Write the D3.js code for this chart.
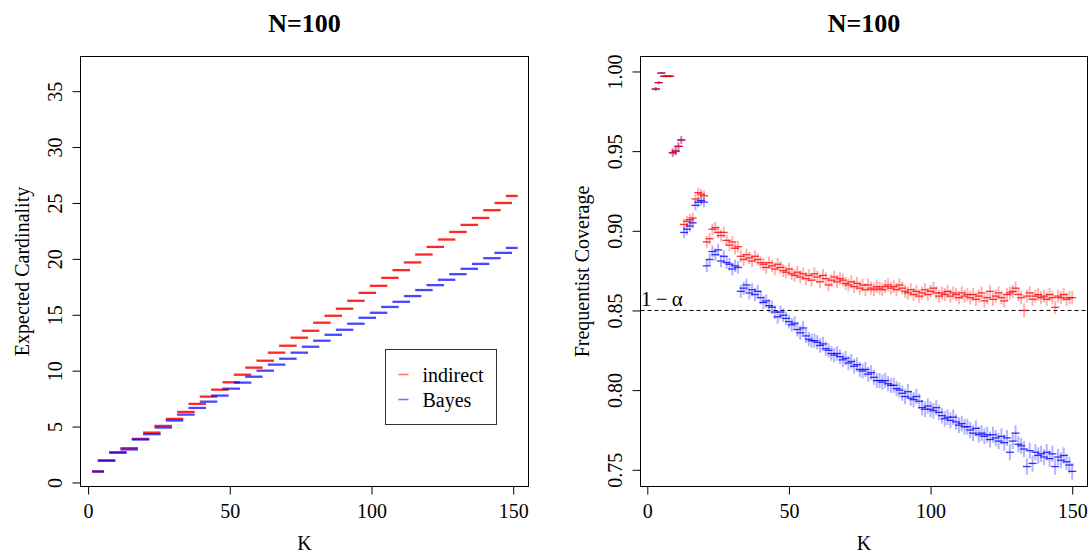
<!DOCTYPE html>
<html>
<head>
<meta charset="utf-8">
<script src="https://cdn.jsdelivr.net/npm/d3@7"></script>
<style>
  body { margin: 0; background: #fff; }
  text { font-family: "Liberation Serif", "Times New Roman", serif; fill: #000; }
</style>
</head>
<body>
<script>
// ---- data ----------------------------------------------------------------
// left panel: expected cardinality, one value per block of K
const blockStart = [3, 5, 9, 13, 17, 21, 25, 29, 33, 37, 41, 45, 49, 53, 57, 61, 65, 69, 73,
  77, 81, 85, 89, 93, 97, 101, 105, 109, 113, 117, 121, 125, 129, 133, 137, 141, 145, 149]
const blockEnd = 150
const cardIndirect = [0.98, 1.96, 2.68, 3.07, 3.90, 4.46, 5.06, 5.69, 6.31, 7.03, 7.68, 8.30,
  8.96, 9.64, 10.27, 10.89, 11.61, 12.23, 12.95, 13.57, 14.29, 14.91, 15.54, 16.25, 16.96,
  17.59, 18.30, 18.99, 19.68, 20.39, 21.07, 21.73, 22.41, 23.04, 23.66, 24.35, 25.00, 25.63]
const cardBayes = [0.98, 1.96, 2.68, 2.95, 3.84, 4.32, 4.91, 5.54, 6.07, 6.67, 7.23, 7.77,
  8.39, 8.93, 9.46, 10.00, 10.54, 11.07, 11.61, 12.14, 12.68, 13.21, 13.66, 14.20, 14.73,
  15.18, 15.70, 16.16, 16.67, 17.21, 17.65, 18.13, 18.63, 19.11, 19.55, 20.06, 20.54, 20.98]

// right panel: frequentist coverage for K = 3 .. 150
const kValues = d3.range(3, 151)
const covIndirect = [
  0.989, 0.993, 0.999, 0.997, 0.997, 0.997,
  0.949, 0.950, 0.953, 0.957, 0.904, 0.906, 0.907, 0.908, 0.920, 0.924, 0.923, 0.922,
  0.893, 0.895, 0.901, 0.902, 0.899, 0.897, 0.899, 0.894, 0.891, 0.893, 0.889, 0.890,
  0.884, 0.882, 0.885, 0.883, 0.881, 0.884, 0.882, 0.880, 0.879, 0.877, 0.880, 0.878,
  0.876, 0.879, 0.877, 0.875, 0.874, 0.876, 0.873, 0.872, 0.874, 0.871, 0.873, 0.870,
  0.872, 0.869, 0.873, 0.871, 0.868, 0.872, 0.870, 0.866, 0.869, 0.871, 0.868, 0.870,
  0.869, 0.867, 0.866, 0.868, 0.865, 0.867, 0.864, 0.866, 0.863, 0.866, 0.864, 0.863,
  0.865, 0.864, 0.863, 0.865, 0.866, 0.864, 0.865, 0.863, 0.866, 0.864, 0.862, 0.861,
  0.863, 0.860, 0.862, 0.859, 0.861, 0.863, 0.860, 0.862, 0.864, 0.861, 0.859, 0.861,
  0.860, 0.862, 0.859, 0.861, 0.860, 0.858, 0.861, 0.859, 0.860, 0.858, 0.860, 0.857,
  0.859, 0.861, 0.856, 0.858, 0.862, 0.857, 0.859, 0.861, 0.858, 0.856, 0.860, 0.861,
  0.862, 0.864, 0.860, 0.858, 0.850, 0.859, 0.861, 0.857, 0.859, 0.860, 0.858, 0.859,
  0.857, 0.860, 0.858, 0.852, 0.859, 0.858, 0.860, 0.857, 0.858, 0.858]
const covBayes = [
  0.989, 0.993, 0.999, 0.997, 0.997, 0.997,
  0.949, 0.950, 0.953, 0.957, 0.899, 0.901, 0.903, 0.905, 0.916, 0.918, 0.919, 0.918,
  0.878, 0.882, 0.887, 0.885, 0.888, 0.881, 0.884, 0.880, 0.879, 0.876, 0.878, 0.877,
  0.862, 0.864, 0.866, 0.861, 0.863, 0.860, 0.862, 0.858, 0.855, 0.856, 0.853, 0.852,
  0.849, 0.846, 0.849, 0.847, 0.845, 0.843, 0.841, 0.842, 0.838, 0.836, 0.839, 0.834,
  0.832, 0.831, 0.831, 0.830, 0.828, 0.829, 0.826, 0.825, 0.823, 0.822, 0.823, 0.821,
  0.819, 0.820, 0.817, 0.818, 0.815, 0.816, 0.813, 0.812, 0.813, 0.810, 0.811, 0.808,
  0.806, 0.806, 0.805, 0.806, 0.804, 0.803, 0.803, 0.801, 0.800, 0.798, 0.796, 0.799,
  0.795, 0.794, 0.796, 0.793, 0.789, 0.788, 0.790, 0.788, 0.787, 0.789, 0.786, 0.784,
  0.782, 0.783, 0.781, 0.783, 0.780, 0.778, 0.779, 0.777, 0.777, 0.775, 0.773, 0.776,
  0.772, 0.773, 0.771, 0.772, 0.769, 0.772, 0.770, 0.768, 0.771, 0.767, 0.770, 0.761,
  0.768, 0.773, 0.766, 0.765, 0.763, 0.752, 0.762, 0.754, 0.761, 0.759, 0.760, 0.758,
  0.761, 0.757, 0.760, 0.752, 0.758, 0.756, 0.759, 0.755, 0.753, 0.749]
const nominal = 0.85
const nSim = 27000   // simulation size behind the coverage error bars

const xTicks = [0, 50, 100, 150]
const cardTicks = [0, 5, 10, 15, 20, 25, 30, 35]
const covTicks = [0.75, 0.80, 0.85, 0.90, 0.95, 1.00]
const seriesNames = ['indirect', 'Bayes']
const colors = { indirect: '#ff0000', Bayes: '#0000ff' }

// ---- layout --------------------------------------------------------------
const width = 1090, height = 553
const svg = d3.select('body').append('svg')
  .attr('width', width)
  .attr('height', height)

const left = { x0: 80.5, x1: 528.5, y0: 56.5, y1: 486.5 }
const right = { x0: 640.5, x1: 1087.5, y0: 56.5, y1: 486.5 }

const xL = d3.scaleLinear().domain([-2.68, 155.4]).range([left.x0, left.x1])
const yL = d3.scaleLinear().domain([-0.36, 38.1]).range([left.y1, left.y0])
const xR = d3.scaleLinear().domain([-2.4, 155.4]).range([right.x0, right.x1])
const yR = d3.scaleLinear().domain([0.7395, 1.0094]).range([right.y1, right.y0])

function panel (p, x, y, yTicks, yFmt, title, ylab) {
  let g = svg.append('g')

  g.append('g')
    .attr('transform', `translate(0,${p.y1})`)
    .call(d3.axisBottom(x).tickValues(xTicks).tickSize(8).tickPadding(9).tickSizeOuter(0))
    .call(a => a.select('.domain').remove())
    .call(a => a.selectAll('text').attr('font-size', 20).attr('font-family', null))

  g.append('g')
    .attr('transform', `translate(${p.x0},0)`)
    .call(d3.axisLeft(y).tickValues(yTicks).tickFormat(yFmt).tickSize(8).tickSizeOuter(0))
    .call(a => a.select('.domain').remove())
    .call(a => a.selectAll('text')
      .attr('font-size', 20)
      .attr('font-family', null)
      .attr('text-anchor', 'middle')
      .attr('x', 0).attr('dy', null)
      .attr('y', -19)
      .attr('transform', 'rotate(-90)'))

  g.selectAll('.tick line').attr('stroke', '#000')

  g.append('rect')
    .attr('x', p.x0).attr('y', p.y0)
    .attr('width', p.x1 - p.x0).attr('height', p.y1 - p.y0)
    .attr('fill', 'none').attr('stroke', '#000').attr('stroke-width', 1)

  let cx = (p.x0 + p.x1) / 2
  g.append('text')
    .attr('x', cx).attr('y', 32)
    .attr('text-anchor', 'middle')
    .attr('font-size', 26).attr('font-weight', 'bold')
    .text(title)

  g.append('text')
    .attr('x', cx).attr('y', 550)
    .attr('text-anchor', 'middle')
    .attr('font-size', 20)
    .text('K')

  g.append('text')
    .attr('transform', `translate(${p.x0 - 52},${(p.y0 + p.y1) / 2}) rotate(-90)`)
    .attr('text-anchor', 'middle')
    .attr('font-size', 20)
    .text(ylab)

  return g
}

// ---- left panel ----------------------------------------------------------
panel(left, xL, yL, cardTicks, d3.format('d'), 'N=100', 'Expected Cardinality')

let blocks = blockStart.map((s, i) => ({
  start: s,
  end: i + 1 < blockStart.length ? blockStart[i + 1] - 1 : blockEnd,
  indirect: cardIndirect[i],
  Bayes: cardBayes[i]
}))

seriesNames.forEach(name => {
  svg.append('g')
    .attr('stroke', colors[name])
    .attr('stroke-opacity', name === 'Bayes' ? 0.72 : 0.85)
    .attr('stroke-width', 2.3)
    .selectAll('line')
    .data(blocks)
    .join('line')
      .attr('x1', d => xL(d.start) - 4.5)
      .attr('x2', d => xL(d.end) + 4.5)
      .attr('y1', d => yL(d[name]))
      .attr('y2', d => yL(d[name]))
})

// legend
let leg = svg.append('g').attr('transform', 'translate(385.5,349.5)')
leg.append('rect')
  .attr('width', 111).attr('height', 75)
  .attr('fill', '#fff').attr('stroke', '#333')
seriesNames.forEach((name, i) => {
  leg.append('line')
    .attr('x1', 13).attr('x2', 23)
    .attr('y1', 25 + i * 25).attr('y2', 25 + i * 25)
    .attr('stroke', colors[name]).attr('stroke-opacity', 0.55).attr('stroke-width', 1.6)
  leg.append('text')
    .attr('x', 37).attr('y', 32 + i * 25)
    .attr('font-size', 20)
    .text(name)
})

// ---- right panel ---------------------------------------------------------
panel(right, xR, yR, covTicks, d3.format('.2f'), 'N=100', 'Frequentist Coverage')

svg.append('line')
  .attr('x1', right.x0).attr('x2', right.x1)
  .attr('y1', yR(nominal)).attr('y2', yR(nominal))
  .attr('stroke', '#000').attr('stroke-dasharray', '4,3')

svg.append('text')
  .attr('x', right.x0 + 0.5).attr('y', yR(nominal) - 4)
  .attr('font-size', 21)
  .text('1\u2009\u2212\u2009\u03b1')

let se = p => 1.96 * Math.sqrt(p * (1 - p) / nSim)

;['Bayes', 'indirect'].forEach(name => {
  let vals = name === 'Bayes' ? covBayes : covIndirect
  let pts = kValues.map((k, i) => ({ k, v: vals[i] }))
  let g = svg.append('g')

  g.selectAll('line.bar')
    .data(pts)
    .join('line')
      .attr('class', 'bar')
      .attr('x1', d => xR(d.k)).attr('x2', d => xR(d.k))
      .attr('y1', d => yR(d.v - se(d.v)))
      .attr('y2', d => yR(d.v + se(d.v)))
      .attr('stroke', colors[name])
      .attr('stroke-opacity', 0.3)
      .attr('stroke-width', 2)

  g.selectAll('line.pt')
    .data(pts)
    .join('line')
      .attr('class', 'pt')
      .attr('x1', d => xR(d.k) - 4).attr('x2', d => xR(d.k) + 4)
      .attr('y1', d => yR(d.v)).attr('y2', d => yR(d.v))
      .attr('stroke', colors[name])
      .attr('stroke-opacity', 0.8)
      .attr('stroke-width', 1.3)
})
</script>
</body>
</html>
